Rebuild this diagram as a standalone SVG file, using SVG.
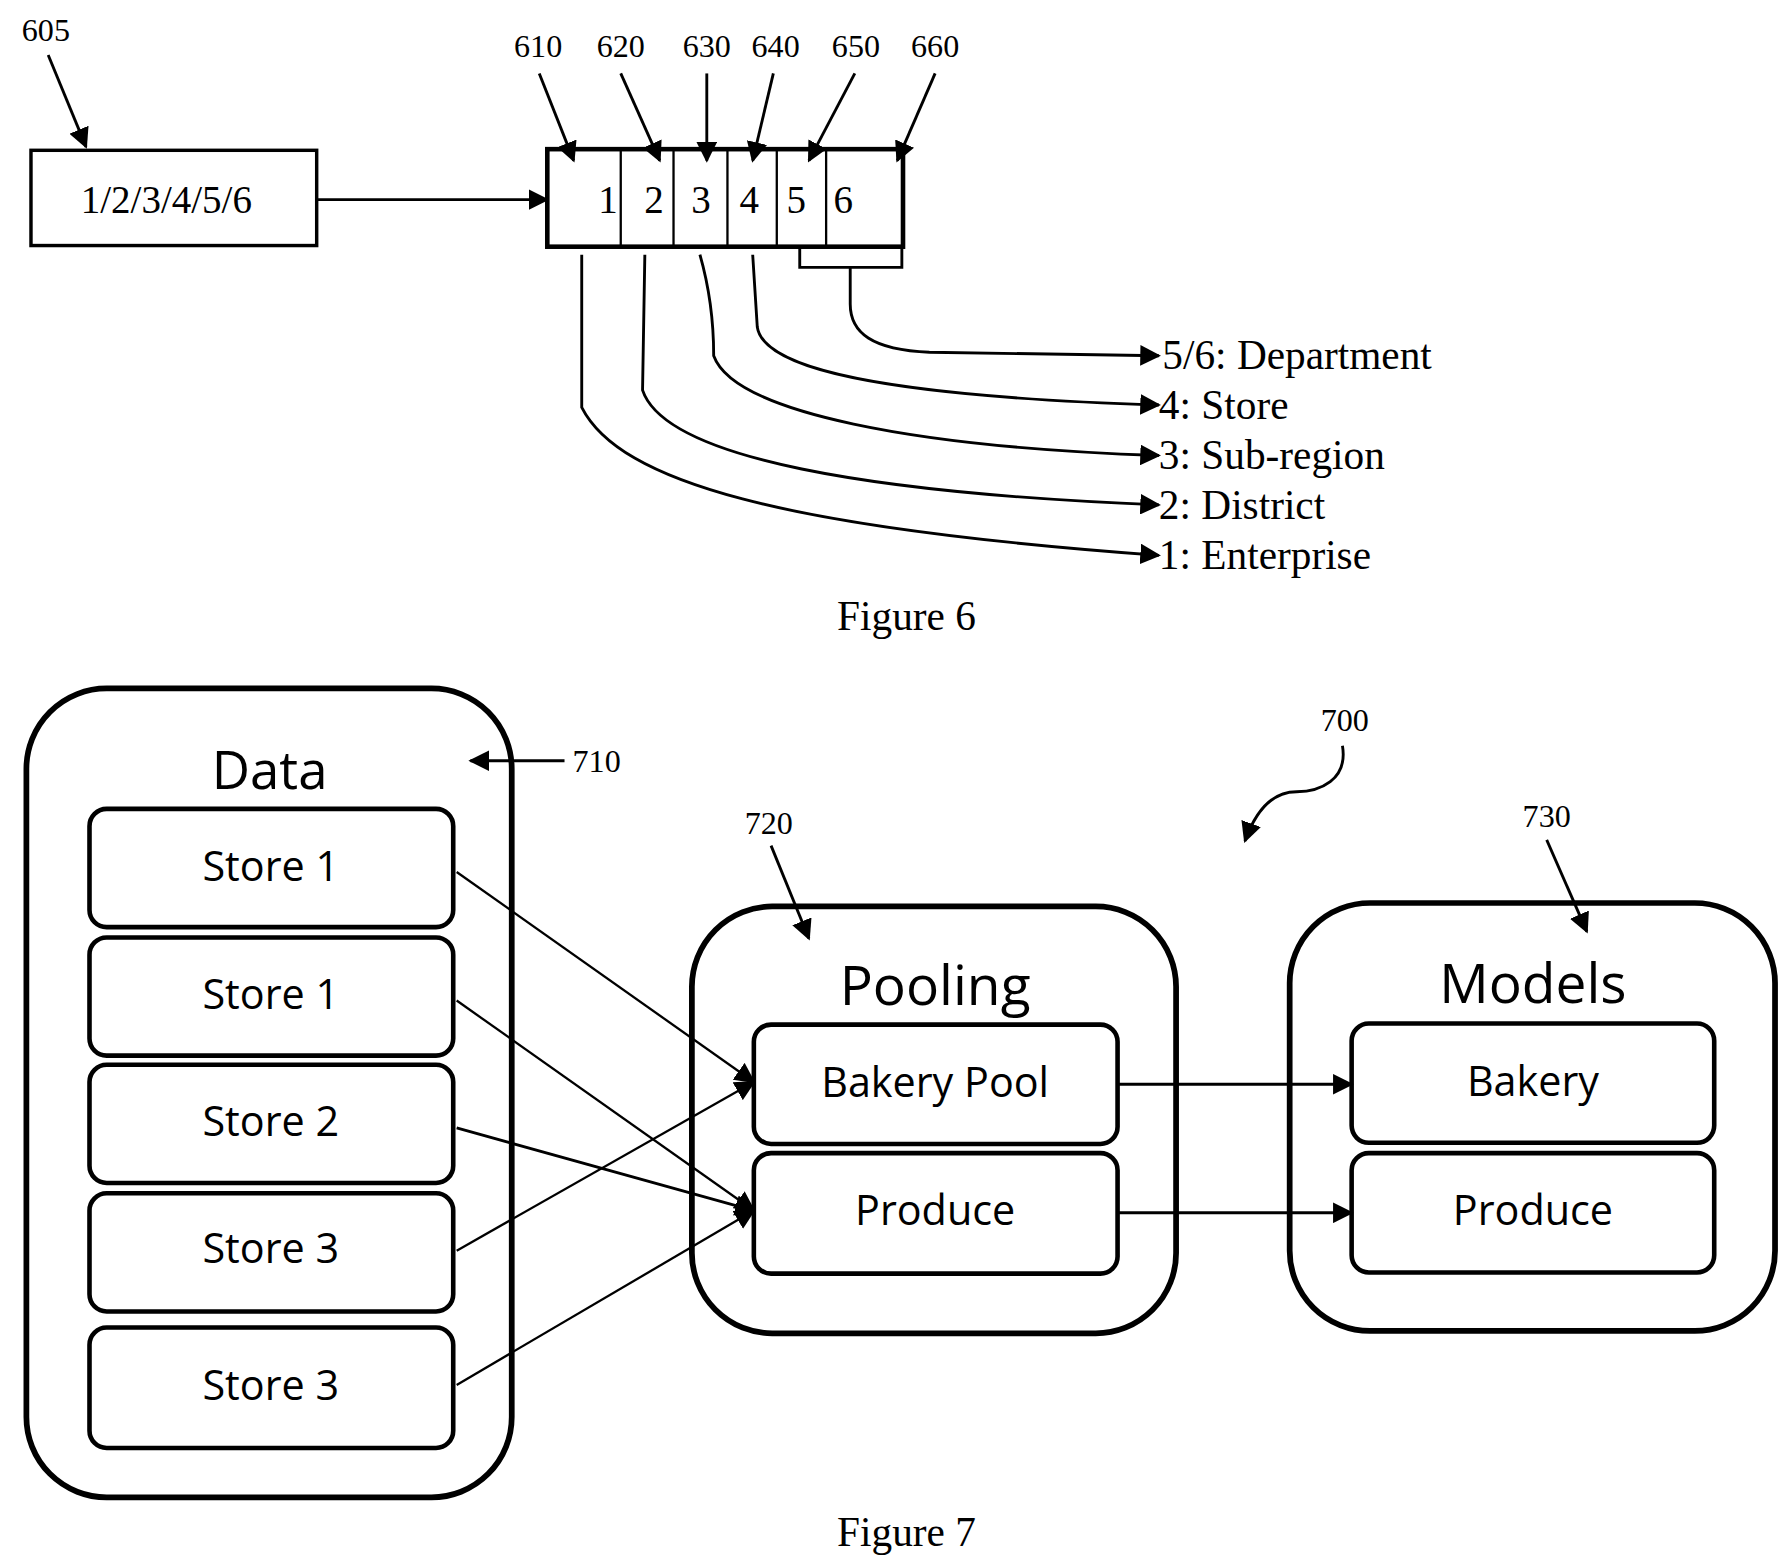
<svg xmlns="http://www.w3.org/2000/svg" width="1790" height="1567" viewBox="0 0 1790 1567">
<defs>
<marker id="ahb" viewBox="0 0 10 10" refX="9" refY="5" markerWidth="18" markerHeight="18" markerUnits="userSpaceOnUse" orient="auto"><path d="M0,0L10,5L0,10z" fill="#000"/></marker>
<style>
.s{font-family:"Liberation Serif",serif;fill:#000}
.c{font-family:"Open Sans","Liberation Sans",sans-serif;fill:#000;text-anchor:middle}
.ln{fill:none;stroke:#000;stroke-width:2}
.lb{fill:none;stroke:#000;stroke-width:2.5}
.box{fill:#fff;stroke:#000;stroke-width:4}
.big{fill:#fff;stroke:#000;stroke-width:5}
</style>
</defs>
<rect width="1790" height="1567" fill="#fff"/>
<g transform="scale(1.1474)">
<g id="n605"><text class="s" x="40" y="36" font-size="28" text-anchor="middle">605</text>
<rect x="27" y="131" width="249" height="83" fill="#fff" stroke="#000" stroke-width="3"/>
<text class="s" x="145" y="186" font-size="34" text-anchor="middle">1/2/3/4/5/6</text></g>
<g id="register">
<rect x="477" y="130" width="310" height="85" fill="none" stroke="#000" stroke-width="4"/>
<path class="ln" d="M541,130V215M587,130V215M634,130V215M677,130V215M720,130V215"/>
<g class="s" font-size="34" text-anchor="middle"><text x="530" y="186">1</text><text x="570" y="186">2</text><text x="611" y="186">3</text><text x="653" y="186">4</text><text x="694" y="186">5</text><text x="735" y="186">6</text></g>
<g class="s" font-size="28" text-anchor="middle"><text x="469" y="50">610</text><text x="541" y="50">620</text><text x="616" y="50">630</text><text x="676" y="50">640</text><text x="746" y="50">650</text><text x="815" y="50">660</text></g>
</g>
<g id="levels" class="s" font-size="36">
<text x="1013" y="322">5/6: Department</text>
<text x="1010" y="365">4: Store</text>
<text x="1010" y="409">3: Sub-region</text>
<text x="1010" y="452">2: District</text>
<text x="1010" y="496">1: Enterprise</text>
<text x="790" y="549" text-anchor="middle">Figure 6</text>
</g>
<g id="data">
<rect class="big" x="23" y="600" width="423" height="705" rx="70"/>
<text class="c" x="235" y="688" font-size="46">Data</text>
<text class="s" x="520" y="673" font-size="28" text-anchor="middle">710</text>
<rect class="box" x="78" y="705" width="317" height="103" rx="15"/><text class="c" x="236" y="768" font-size="36">Store 1</text>
<rect class="box" x="78" y="817" width="317" height="103" rx="15"/><text class="c" x="236" y="879" font-size="36">Store 1</text>
<rect class="box" x="78" y="928" width="317" height="103" rx="15"/><text class="c" x="236" y="990" font-size="36">Store 2</text>
<rect class="box" x="78" y="1040" width="317" height="103" rx="15"/><text class="c" x="236" y="1101" font-size="36">Store 3</text>
<rect class="box" x="78" y="1157" width="317" height="105" rx="15"/><text class="c" x="236" y="1220" font-size="36">Store 3</text>
</g>
<g id="pooling">
<rect class="big" x="603" y="790" width="422" height="372" rx="70"/>
<text class="c" x="815" y="876" font-size="48">Pooling</text>
<text class="s" x="670" y="727" font-size="28" text-anchor="middle">720</text>
<rect class="box" x="657" y="893" width="317" height="104" rx="15"/><text class="c" x="815" y="956" font-size="36">Bakery Pool</text>
<rect class="box" x="657" y="1005" width="317" height="105" rx="15"/><text class="c" x="815" y="1068" font-size="36">Produce</text>
</g>
<g id="models">
<rect class="big" x="1124" y="787" width="423" height="373" rx="70"/>
<text class="c" x="1336" y="874" font-size="48">Models</text>
<text class="s" x="1348" y="721" font-size="28" text-anchor="middle">730</text>
<text class="s" x="1172" y="637" font-size="28" text-anchor="middle">700</text>
<rect class="box" x="1178" y="892" width="316" height="104" rx="15"/><text class="c" x="1336" y="955" font-size="36">Bakery</text>
<rect class="box" x="1178" y="1005" width="316" height="104" rx="15"/><text class="c" x="1336" y="1068" font-size="36">Produce</text>
</g>
<text class="s" x="790" y="1347" font-size="36" text-anchor="middle">Figure 7</text>
<g id="connectors">
<line class="lb" x1="42" y1="48" x2="75" y2="128" marker-end="url(#ahb)"/>
<line class="lb" x1="276" y1="174" x2="477" y2="174" marker-end="url(#ahb)"/>
<line class="lb" x1="470" y1="64" x2="500" y2="140" marker-end="url(#ahb)"/>
<line class="lb" x1="541" y1="64" x2="575" y2="140" marker-end="url(#ahb)"/>
<line class="lb" x1="616" y1="64" x2="616" y2="140" marker-end="url(#ahb)"/>
<line class="lb" x1="674" y1="64" x2="656" y2="140" marker-end="url(#ahb)"/>
<line class="lb" x1="745" y1="64" x2="705" y2="140" marker-end="url(#ahb)"/>
<line class="lb" x1="815" y1="64" x2="782" y2="140" marker-end="url(#ahb)"/>
<path class="lb" d="M697,216V233H786V216M741,233V265C741,290 760,305 810,307L1010,310" marker-end="url(#ahb)"/>
<path class="lb" d="M656,222L660,285C665,320 760,345 1010,353" marker-end="url(#ahb)"/>
<path class="lb" d="M610,222C618,250 622,280 622,310C640,360 800,390 1010,397" marker-end="url(#ahb)"/>
<path class="lb" d="M562,222L560,340C580,400 760,430 1010,440" marker-end="url(#ahb)"/>
<path class="lb" d="M507,222L507,355C540,420 680,460 1010,484" marker-end="url(#ahb)"/>
<line class="lb" x1="492" y1="663" x2="410" y2="663" marker-end="url(#ahb)"/>
<line class="lb" x1="672" y1="737" x2="705" y2="818" marker-end="url(#ahb)"/>
<line class="lb" x1="1348" y1="732" x2="1383" y2="812" marker-end="url(#ahb)"/>
<path class="lb" d="M1170,650C1175,680 1150,690 1130,690C1110,690 1095,705 1085,733" marker-end="url(#ahb)"/>
<line class="ln" x1="398" y1="760" x2="657" y2="943" marker-end="url(#ahb)"/>
<line class="ln" x1="398" y1="872" x2="657" y2="1055" marker-end="url(#ahb)"/>
<line class="lb" x1="398" y1="983" x2="657" y2="1055" marker-end="url(#ahb)"/>
<line class="ln" x1="398" y1="1090" x2="657" y2="943" marker-end="url(#ahb)"/>
<line class="ln" x1="398" y1="1207" x2="657" y2="1055" marker-end="url(#ahb)"/>
<line class="lb" x1="975" y1="945" x2="1178" y2="945" marker-end="url(#ahb)"/>
<line class="lb" x1="975" y1="1057" x2="1178" y2="1057" marker-end="url(#ahb)"/>
</g>
</g>
</svg>
